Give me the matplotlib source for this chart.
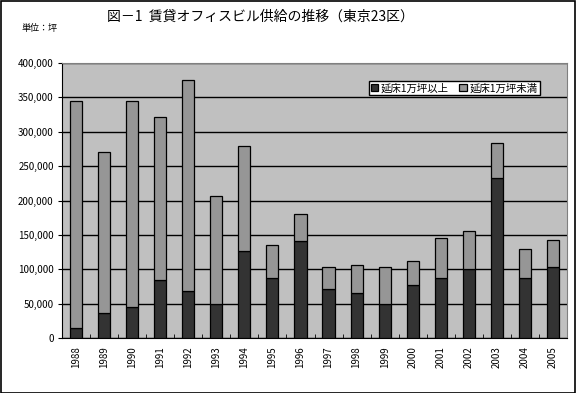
import numpy as np
import matplotlib.pyplot as plt
from matplotlib.ticker import FuncFormatter, FixedLocator

plt.rcParams['font.family'] = ['Noto Sans CJK JP', 'DejaVu Sans']

# data (tsubo)
years = [str(y) for y in range(1988, 2006)]
large = [14000, 37000, 45000, 84000, 69000, 50000, 126000, 88000, 141000,
         71000, 65000, 50000, 77000, 88000, 101000, 233000, 87000, 104000]
total = [345000, 270000, 344000, 322000, 375000, 207000, 280000, 136000, 181000,
         104000, 106000, 103000, 112000, 146000, 155000, 283000, 130000, 142000]
small = [t - l for t, l in zip(total, large)]

fig = plt.figure(figsize=(5.76, 3.93), dpi=100)
ax = fig.add_axes([62/576, 1-338/393, 505/576, 275/393])

x = np.arange(len(years))
ax.set_facecolor('#c0c0c0')
ax.bar(x, large, width=0.43, color='#333333', edgecolor='black', linewidth=0.9,
       label='延床1万坪以上', zorder=3)
ax.bar(x, small, width=0.43, bottom=large, color='#969696', edgecolor='black',
       linewidth=0.9, label='延床1万坪未満', zorder=3)

ax.set_xlim(-0.5, len(years) - 0.5)
ax.set_ylim(0, 400000)
ax.set_yticks(np.arange(0, 400001, 50000))
ax.yaxis.set_major_formatter(FuncFormatter(lambda v, p: f'{int(v):,}'))
ax.yaxis.grid(True, color='black', linewidth=1, zorder=1)
ax.set_axisbelow(True)
ax.set_xticks(x)
ax.set_xticklabels(years, rotation=90, fontsize=7)
ax.xaxis.set_minor_locator(FixedLocator(np.arange(-0.5, len(years), 1)))
ax.tick_params(axis='x', which='major', length=0, pad=6)
ax.tick_params(axis='x', which='minor', length=3, direction='in')
ax.tick_params(axis='y', labelsize=7, length=3, pad=3)

for s in ['top', 'right']:
    ax.spines[s].set_color('#808080')
for s in ['left', 'bottom']:
    ax.spines[s].set_color('black')

leg = ax.legend(loc='upper right', bbox_to_anchor=(478/505, 1 - 18/275), ncol=2,
                fontsize=7.5, frameon=True, fancybox=False, framealpha=1,
                edgecolor='black', handlelength=0.7, handleheight=0.7,
                handletextpad=0.3, columnspacing=1.0, borderpad=0.2,
                borderaxespad=0)
leg.get_frame().set_linewidth(1)

fig.text(260/576, 1 - 17/393, '図－1  賃貸オフィスビル供給の推移（東京23区）',
         ha='center', va='center', fontsize=10)
fig.text(22/576, 1 - 28/393, '単位：坪', ha='left', va='center', fontsize=6.5)

# outer border
fig.patches.append(plt.Rectangle((0.001, 0.001), 0.997, 0.997, transform=fig.transFigure,
                                 fill=False, edgecolor='black', linewidth=1.2))

fig.savefig('out.png', dpi=100)
